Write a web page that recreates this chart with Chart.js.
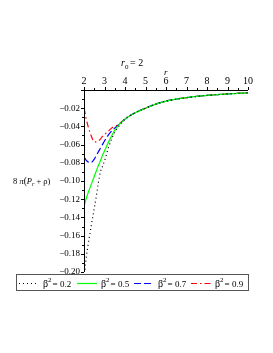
<!DOCTYPE html>
<html>
<head>
<meta charset="utf-8">
<script src="https://cdn.jsdelivr.net/npm/chart.js@4.4.1/dist/chart.umd.min.js"></script>
<style>
  html, body { margin: 0; padding: 0; background: #fff; }
  #wrap { position: relative; width: 273px; height: 353px; }
</style>
</head>
<body>
<div id="wrap"><canvas id="c" width="273" height="353"></canvas></div>
<script>
  // r values (shared sample points)
  const rVals = [2, 2.05, 2.1, 2.2, 2.3, 2.4, 2.5, 2.6, 2.7, 2.8, 2.9, 3.0, 3.2, 3.4, 3.6,
                 4, 4.5, 5, 5.5, 6, 6.5, 7, 7.5, 8, 8.5, 9, 9.5, 10];

  // common tail beyond r = 4
  const tail = [-0.032, -0.025, -0.020, -0.0155, -0.0122, -0.0100, -0.0084, -0.0071,
                -0.0060, -0.0051, -0.0043, -0.0037, -0.0031];

  const beta02 = [-0.215, -0.197, -0.186, -0.170, -0.156, -0.143, -0.130, -0.117, -0.102,
                  -0.090, -0.084, -0.078, -0.063, -0.051, -0.043].concat(tail);
  const beta05 = [-0.128, -0.124, -0.120, -0.113, -0.107, -0.101, -0.095, -0.089, -0.083,
                  -0.078, -0.072, -0.067, -0.057, -0.048, -0.041].concat(tail);
  const beta07 = [-0.074, -0.075, -0.077, -0.079, -0.080, -0.079, -0.076, -0.072, -0.068,
                  -0.064, -0.060, -0.056, -0.049, -0.044, -0.040].concat(tail);
  const beta09 = [-0.020, -0.025, -0.031, -0.040, -0.047, -0.053, -0.057, -0.057, -0.056,
                  -0.054, -0.051, -0.049, -0.045, -0.041, -0.039].concat(tail);

  const legendLabels = ['0.2', '0.5', '0.7', '0.9'];
  const xTicks = [2, 3, 4, 5, 6, 7, 8, 9, 10];

  const serif = '"Liberation Serif", "DejaVu Serif", serif';

  function pts(vals){ return rVals.map((r, i) => ({ x: r, y: vals[i] })); }

  const series = [
    { data: beta02, color: '#000000', dash: [1, 3], width: 1.2 },
    { data: beta05, color: '#00ff00', dash: [],     width: 1.2 },
    { data: beta07, color: '#0000ff', dash: [7, 3], width: 1.2 },
    { data: beta09, color: '#ff0000', dash: [6, 3, 1.5, 3], width: 1.2 }
  ];

  // Axes, tick marks, labels and legend, drawn in Maple style
  const maplePlugin = {
    id: 'maplePlugin',
    afterDraw(chart){
      const { ctx, chartArea: a, scales: { x, y } } = chart;
      ctx.save();
      ctx.strokeStyle = '#000';
      ctx.lineWidth = 1;
      ctx.setLineDash([]);
      // axis lines
      ctx.beginPath();
      ctx.moveTo(a.left, a.top + 0.5); ctx.lineTo(a.right, a.top + 0.5);
      ctx.moveTo(a.left + 0.5, a.top); ctx.lineTo(a.left + 0.5, a.bottom);
      ctx.stroke();
      // x ticks
      ctx.beginPath();
      for (let v = 2; v <= 10.001; v += 0.5) {
        const px = Math.round(x.getPixelForValue(v)) + 0.5;
        const major = Math.abs(v - Math.round(v)) < 1e-6;
        ctx.moveTo(px, a.top); ctx.lineTo(px, a.top - (major ? 3 : 2));
      }
      // y ticks
      for (let k = 0; k <= 20; k++) {
        const v = -k * 0.01;
        const py = Math.round(y.getPixelForValue(v)) + 0.5;
        const major = k % 2 === 0;
        ctx.moveTo(a.left, py); ctx.lineTo(a.left - (major ? 3 : 2), py);
      }
      ctx.stroke();

      ctx.fillStyle = '#000';
      ctx.textBaseline = 'alphabetic';
      // title r0 = 2
      ctx.font = 'italic 10px ' + serif;
      ctx.textAlign = 'left';
      ctx.fillText('r', 121, 66);
      ctx.font = '7px ' + serif;
      ctx.fillText('0', 125, 69);
      ctx.font = '10px ' + serif;
      ctx.fillText('= 2', 130, 66);
      // axis label r
      ctx.font = 'italic 9px ' + serif;
      ctx.fillText('r', 164, 75);
      // y label 8 π(P_r + ρ)
      let lx = 13;
      const ly = 184;
      const part = (t, f, dy) => { ctx.font = f; ctx.fillText(t, lx, ly + (dy || 0)); lx += ctx.measureText(t).width; };
      part('8 ', '8.5px ' + serif);
      part('π', 'italic 8.5px ' + serif);
      part('(', '9.5px ' + serif);
      part('P', 'italic 8.5px ' + serif);
      part('r', 'italic 6px ' + serif, 2);
      part(' + ρ)', '8.5px ' + serif);

      // legend
      const lt = 274, lb = 290, ll = 16, lr = 248;
      ctx.strokeStyle = '#555';
      ctx.lineWidth = 1;
      ctx.strokeRect(ll + 0.5, lt + 0.5, lr - ll, lb - lt);
      const itemX = [19, 77, 134, 191];
      series.forEach((s, i) => {
        const sx = itemX[i];
        const my = lt + 9.5;
        ctx.strokeStyle = s.color;
        ctx.lineWidth = 1.2;
        ctx.setLineDash(s.dash);
        ctx.beginPath(); ctx.moveTo(sx, my); ctx.lineTo(sx + 20, my); ctx.stroke();
        ctx.setLineDash([]);
        ctx.fillStyle = '#000';
        let tx = sx + 24;
        ctx.font = '10px ' + serif;
        ctx.fillText('β', tx, lt + 13); tx += ctx.measureText('β').width;
        ctx.font = '7px ' + serif;
        ctx.fillText('2', tx, lt + 8); tx += ctx.measureText('2').width + 1;
        ctx.font = '9px ' + serif;
        ctx.fillText('= ' + legendLabels[i], tx, lt + 13);
      });
      ctx.restore();
    }
  };

  new Chart(document.getElementById('c'), {
    type: 'line',
    data: {
      datasets: series.map((s, i) => ({
        label: 'β² = ' + legendLabels[i],
        data: pts(s.data),
        borderColor: s.color,
        borderDash: s.dash,
        borderWidth: s.width,
        pointRadius: 0,
        fill: false,
        cubicInterpolationMode: 'monotone'
      }))
    },
    options: {
      responsive: false,
      animation: false,
      layout: { padding: { left: 0, top: 0, right: 25, bottom: 81 } },
      plugins: { legend: { display: false }, tooltip: { enabled: false } },
      scales: {
        x: {
          type: 'linear', position: 'top', min: 2, max: 10,
          afterFit: s => { s.height = 90; },
          afterBuildTicks: s => { s.ticks = xTicks.map(v => ({ value: v })); },
          grid: { display: false, drawTicks: false },
          border: { display: false },
          ticks: { padding: 3, color: '#000', font: { family: serif, size: 10 } }
        },
        y: {
          type: 'linear', min: -0.2, max: 0,
          afterFit: s => { s.width = 84; },
          grid: { display: false, drawTicks: false },
          border: { display: false },
          ticks: {
            stepSize: 0.02, padding: 4, color: '#000',
            font: { family: serif, size: 9 },
            callback: v => (Math.abs(v) < 1e-9 ? '' : '−' + Math.abs(v).toFixed(2))
          }
        }
      }
    },
    plugins: [maplePlugin]
  });
</script>
</body>
</html>
